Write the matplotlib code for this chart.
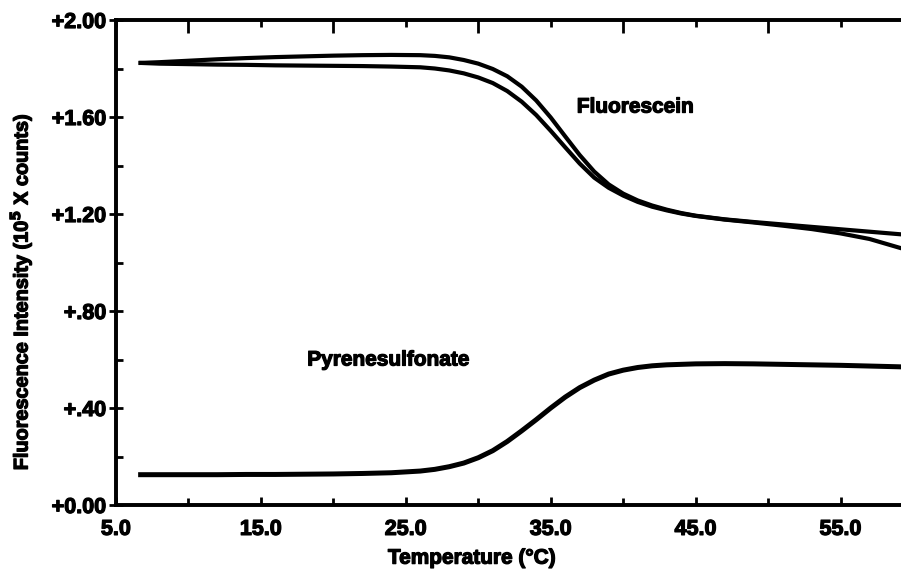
import numpy as np
import matplotlib
matplotlib.use("Agg")
import matplotlib.pyplot as plt
import matplotlib.patheffects as pe

plt.rcParams['font.family'] = ['Liberation Sans', 'DejaVu Sans']
plt.rcParams['font.weight'] = 'bold'

# temperature grid (deg C) for the traced curves
temp = [6.7, 8, 10, 12, 14, 16, 18, 20, 22, 24, 26, 27, 28, 29, 30, 31, 32, 33, 34,
        35, 36, 37, 38, 39, 40, 41, 42, 43, 44, 45, 47, 49, 51, 53, 55, 57, 59, 60]

# fluorescein, two runs (10^5 counts)
fluor_a = [1.823, 1.826, 1.832, 1.838, 1.843, 1.847, 1.850, 1.853, 1.855, 1.856, 1.855,
           1.852, 1.846, 1.835, 1.820, 1.798, 1.768, 1.725, 1.668, 1.598, 1.520, 1.443,
           1.375, 1.322, 1.284, 1.256, 1.235, 1.218, 1.204, 1.193, 1.178, 1.167, 1.157,
           1.147, 1.137, 1.127, 1.117, 1.112]
fluor_b = [1.823, 1.820, 1.818, 1.816, 1.815, 1.813, 1.812, 1.811, 1.810, 1.808, 1.805,
           1.800, 1.792, 1.780, 1.763, 1.740, 1.707, 1.663, 1.608, 1.543, 1.475, 1.408,
           1.350, 1.308, 1.276, 1.250, 1.230, 1.215, 1.202, 1.192, 1.177, 1.165, 1.152,
           1.138, 1.120, 1.097, 1.062, 1.045]

# pyrenesulfonate
pyrene = [0.125, 0.125, 0.125, 0.125, 0.126, 0.126, 0.127, 0.128, 0.130, 0.133, 0.140,
          0.147, 0.158, 0.173, 0.195, 0.224, 0.262, 0.306, 0.352, 0.400, 0.445, 0.484,
          0.515, 0.540, 0.556, 0.567, 0.574, 0.578, 0.580, 0.582, 0.583, 0.582, 0.580,
          0.578, 0.576, 0.573, 0.570, 0.568]

xticks = [5, 15, 25, 35, 45, 55]
xticklabels = ["5.0", "15.0", "25.0", "35.0", "45.0", "55.0"]
yticks = [0.0, 0.4, 0.8, 1.2, 1.6, 2.0]
yticklabels = ["+0.00", "+.40", "+.80", "+1.20", "+1.60", "+2.00"]

heavy = [pe.withStroke(linewidth=0.9, foreground='black')]

fig = plt.figure(figsize=(9.01, 5.69), dpi=100)
ax = fig.add_axes([116 / 901, 64 / 569, 797 / 901, 485 / 569])

ax.plot(temp, fluor_a, color='black', lw=3.0)
ax.plot(temp, fluor_b, color='black', lw=3.0)
ax.plot(temp, pyrene, color='black', lw=3.6)

ax.set_xlim(5, 60)
ax.set_ylim(0, 2.0)

for s in ax.spines.values():
    s.set_linewidth(2.6)

ax.set_xticks(xticks)
ax.set_xticklabels(xticklabels)
ax.set_xticks([10, 20, 30, 40, 50, 60], minor=True)
ax.set_yticks(yticks)
ax.set_yticklabels(yticklabels)
ax.set_yticks([0.2, 0.6, 1.0, 1.4, 1.8], minor=True)

ax.tick_params(axis='x', which='major', direction='in', length=6, width=2,
               labelsize=15.5, pad=10, top=False)
ax.tick_params(axis='x', which='minor', direction='in', length=5, width=2, top=False)
ax.tick_params(axis='y', which='major', direction='inout', length=10, width=2,
               labelsize=15.5, pad=2, right=True)
ax.tick_params(axis='y', which='minor', direction='in', length=5, width=2, right=True)
for lab in ax.get_xticklabels() + ax.get_yticklabels():
    lab.set_path_effects(heavy)

# top axis has its own tick pattern
top = ax.twiny()
top.set_xlim(ax.get_xlim())
top.set_xticks([10, 20, 30, 40, 50, 60])
top.set_xticks([5, 15, 25, 35, 45, 55], minor=True)
top.tick_params(axis='x', which='major', direction='in', length=9, width=2, labeltop=False)
top.tick_params(axis='x', which='minor', direction='in', length=5, width=2)
for s in top.spines.values():
    s.set_linewidth(2.6)

xl = ax.set_xlabel("Temperature (°C)", fontsize=15, fontweight='bold')
xl.set_path_effects(heavy)
ax.xaxis.set_label_coords(0.447, -0.09)
yl = ax.set_ylabel("Fluorescence Intensity (10$^{\\mathbf{5}}$ X counts)", fontsize=14.3,
                   fontweight='bold')
yl.set_path_effects(heavy)
ax.yaxis.set_label_coords(-0.103, 0.44)

ax.text(36.8, 1.641, "Fluorescein", fontsize=15, fontweight='bold', va='center',
        path_effects=heavy)
ax.text(18.2, 0.598, "Pyrenesulfonate", fontsize=15, fontweight='bold', va='center',
        path_effects=heavy)

fig.savefig("out.png", dpi=100)
